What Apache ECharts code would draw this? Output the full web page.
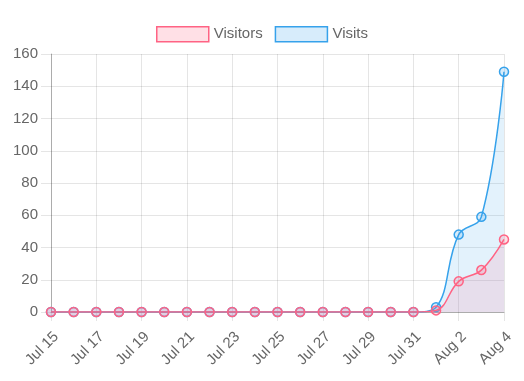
<!DOCTYPE html>
<html>
<head>
<meta charset="utf-8">
<script src="https://cdn.jsdelivr.net/npm/echarts@6/dist/echarts.min.js"></script>
<style>html,body{margin:0;padding:0;background:#fff}#c{width:524px;height:381px}</style>
</head>
<body>
<div id="c"></div>
<script>
var categories = ['Jul 15','Jul 16','Jul 17','Jul 18','Jul 19','Jul 20','Jul 21','Jul 22','Jul 23','Jul 24','Jul 25','Jul 26','Jul 27','Jul 28','Jul 29','Jul 30','Jul 31','Aug 1','Aug 2','Aug 3','Aug 4'];
var visitors = [0,0,0,0,0,0,0,0,0,0,0,0,0,0,0,0,0,1,19,26,45];
var visits = [0,0,0,0,0,0,0,0,0,0,0,0,0,0,0,0,0,3,48,59,149];
var yTicks = [0,20,40,60,80,100,120,140,160];

var font = 'Helvetica Neue, Helvetica, Arial, Liberation Sans, sans-serif';
var chart = echarts.init(document.getElementById('c'));
chart.setOption({
  animation: false,
  textStyle: {fontFamily: font},
  legend: {
    top: 21,
    left: 'center',
    itemWidth: 52,
    itemHeight: 15,
    itemGap: 12,
    textStyle: {fontSize: 15, color: '#666', fontFamily: font},
    data: [
      {name: 'Visitors', icon: 'rect', itemStyle: {color: 'rgba(255,99,132,0.2)', borderColor: 'rgb(255,99,132)', borderWidth: 1.5}},
      {name: 'Visits', icon: 'rect', itemStyle: {color: 'rgba(54,162,235,0.2)', borderColor: 'rgb(54,162,235)', borderWidth: 1.5}}
    ]
  },
  grid: {left: 51, right: 20, top: 54, bottom: 69, containLabel: false},
  xAxis: {
    type: 'category',
    data: categories,
    boundaryGap: false,
    axisLine: {show: true, lineStyle: {color: 'rgba(0,0,0,0.25)', width: 1}},
    axisTick: {show: true, interval: 1, length: 9, lineStyle: {color: 'rgba(0,0,0,0.1)'}},
    splitLine: {show: true, interval: 1, lineStyle: {color: 'rgba(0,0,0,0.1)'}},
    axisLabel: {interval: 1, rotate: 45, fontSize: 15, color: '#666', margin: 17, verticalAlign: 'top', fontFamily: font}
  },
  yAxis: {
    type: 'value',
    min: yTicks[0],
    max: yTicks[yTicks.length - 1],
    interval: 20,
    axisLine: {show: true, lineStyle: {color: 'rgba(0,0,0,0.25)', width: 1}},
    axisTick: {show: true, length: 10, lineStyle: {color: 'rgba(0,0,0,0.1)'}},
    splitLine: {show: true, lineStyle: {color: 'rgba(0,0,0,0.1)'}},
    axisLabel: {fontSize: 15, color: '#666', margin: 13, fontFamily: font}
  },
  series: [
    {
      name: 'Visits', type: 'line', data: visits, smooth: 0.4,
      symbol: 'circle', symbolSize: 9, showAllSymbol: true,
      lineStyle: {color: 'rgb(54,162,235)', width: 1.5},
      itemStyle: {color: 'rgba(54,162,235,0.2)', borderColor: 'rgb(54,162,235)', borderWidth: 1.5},
      areaStyle: {color: 'rgba(54,162,235,0.2)', origin: 'start'},
      z: 2
    },
    {
      name: 'Visitors', type: 'line', data: visitors, smooth: 0.4,
      symbol: 'circle', symbolSize: 9, showAllSymbol: true,
      lineStyle: {color: 'rgb(255,99,132)', width: 1.5},
      itemStyle: {color: 'rgba(255,99,132,0.2)', borderColor: 'rgb(255,99,132)', borderWidth: 1.5},
      areaStyle: {color: 'rgba(255,99,132,0.2)', origin: 'start'},
      z: 3
    }
  ]
});
</script>
</body>
</html>
